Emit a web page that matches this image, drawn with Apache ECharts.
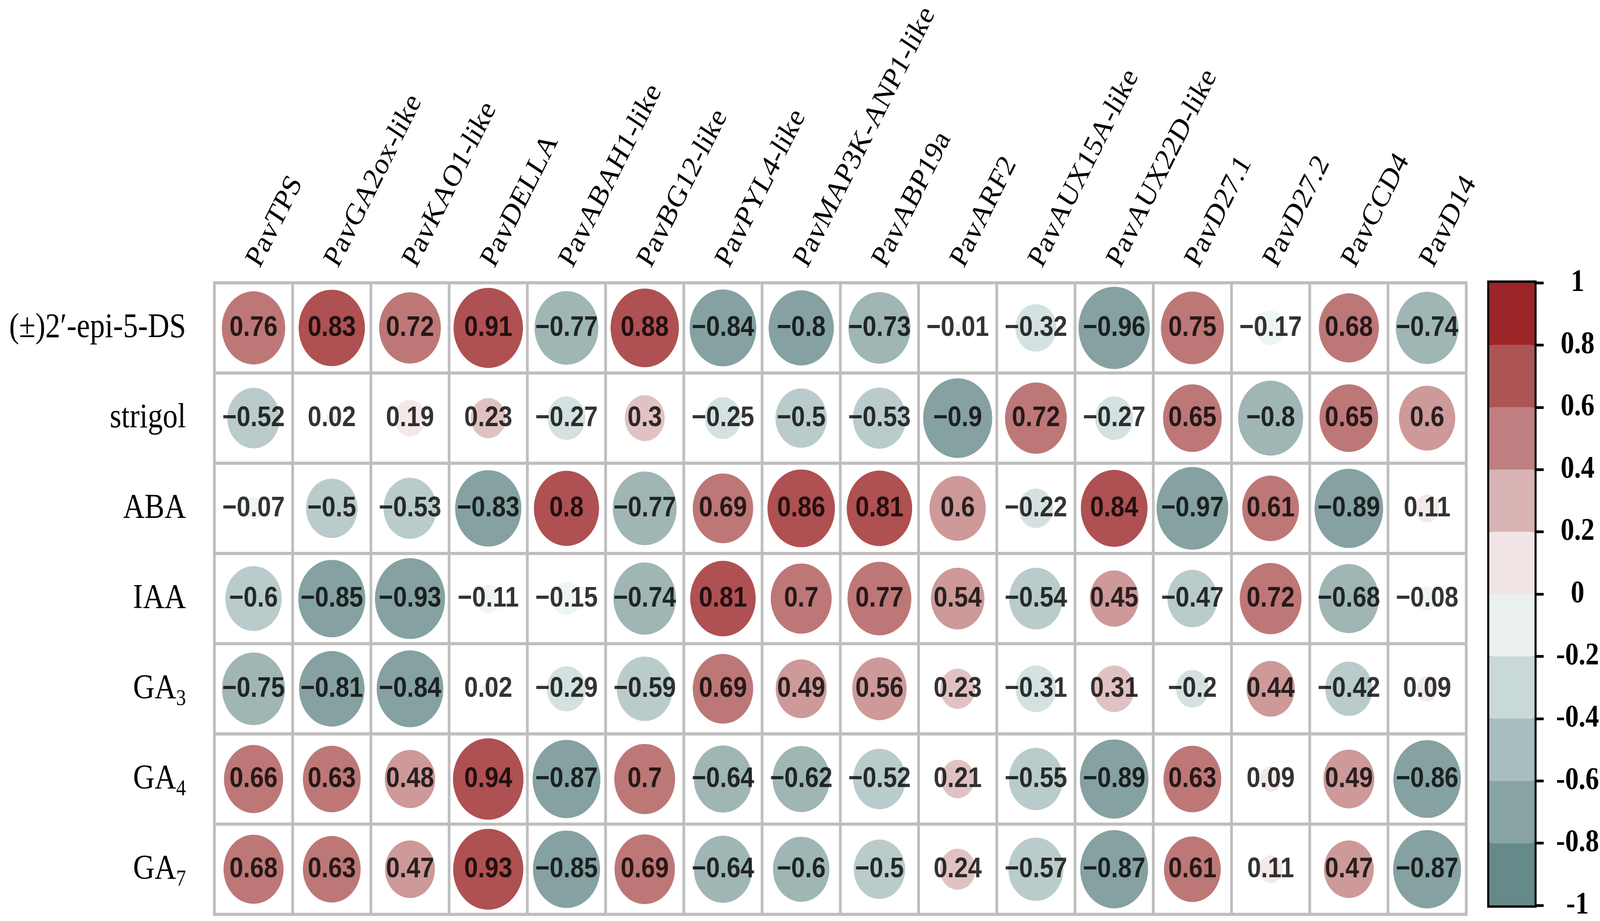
<!DOCTYPE html>
<html>
<head>
<meta charset="utf-8">
<title>correlation circles</title>
<script src="https://cdn.jsdelivr.net/npm/echarts@6/dist/echarts.min.js"></script>
<style>
  html, body { margin: 0; padding: 0; background: #fff; overflow: hidden; }
  #chart { width: 4724px; height: 2358px; transform-origin: 0 0; }
</style>
</head>
<body>
<div id="chart"></div>
<script>
// genes along the top, hormones down the side
const genes = [
  'PavTPS', 'PavGA2ox-like', 'PavKAO1-like', 'PavDELLA', 'PavABAH1-like', 'PavBG12-like',
  'PavPYL4-like', 'PavMAP3K-ANP1-like', 'PavABP19a', 'PavARF2', 'PavAUX15A-like',
  'PavAUX22D-like', 'PavD27.1', 'PavD27.2', 'PavCCD4', 'PavD14'
];
const hormones = ['(±)2′-epi-5-DS', 'strigol', 'ABA', 'IAA', 'GA3', 'GA4', 'GA7'];

// correlation per hormone (values printed as 2 decimals; third decimal only picks the colour bin seen)
const epiDS   = [0.76, 0.83, 0.72, 0.91, -0.77, 0.88, -0.84, -0.802, -0.73, -0.01, -0.32, -0.96, 0.75, -0.17, 0.68, -0.74];
const strigol = [-0.52, 0.02, 0.19, 0.23, -0.27, 0.3, -0.25, -0.5, -0.53, -0.9, 0.72, -0.27, 0.65, -0.798, 0.65, 0.598];
const aba     = [-0.07, -0.5, -0.53, -0.83, 0.802, -0.77, 0.69, 0.86, 0.81, 0.598, -0.22, 0.84, -0.97, 0.61, -0.89, 0.11];
const iaa     = [-0.598, -0.85, -0.93, -0.11, -0.15, -0.74, 0.81, 0.7, 0.77, 0.54, -0.54, 0.45, -0.47, 0.72, -0.68, -0.08];
const ga3     = [-0.75, -0.81, -0.84, 0.02, -0.29, -0.59, 0.69, 0.49, 0.56, 0.23, -0.31, 0.31, -0.202, 0.44, -0.42, 0.09];
const ga4     = [0.66, 0.63, 0.48, 0.94, -0.87, 0.7, -0.64, -0.62, -0.52, 0.21, -0.55, -0.89, 0.63, 0.09, 0.49, -0.86];
const ga7     = [0.68, 0.63, 0.47, 0.93, -0.85, 0.69, -0.64, -0.602, -0.5, 0.24, -0.57, -0.87, 0.61, 0.11, 0.47, -0.87];
const rows = [epiDS, strigol, aba, iaa, ga3, ga4, ga7];

// colour scale, from -1 upward
const breaks = [-1, -0.8, -0.6, -0.4, -0.2, 0, 0.2, 0.4, 0.6, 0.8, 1];
const binColors = [
  '#668a89', '#87a4a3', '#a9bebe', '#c9d9d9', '#ebf1f1',
  '#f0e4e4', '#d8b3b3', '#c07f80', '#ad5555', '#9b2427'
];

const W = 4724;
const CELL = 231;
const GRID_LEFT = 633;
const GRID_TOP = 724;
const LINE = '#bebebe';

// the browser may give a narrower viewport than the 4724px figure; squeeze to fit it
const el = document.getElementById('chart');
const sx = Math.min(1, window.innerWidth / W);
if (sx < 1) el.style.transform = `scaleX(${sx})`;

const cells = [];
rows.forEach((vals, r) => vals.forEach((v, c) => cells.push([c, r, v])));

const fmtCell = v => String(Math.round(v * 100) / 100).replace('-', '\u2212');

const pieces = binColors.map((color, i) => {
  const p = { gte: breaks[i], color };
  if (i === binColors.length - 1) p.lte = breaks[i + 1]; else p.lt = breaks[i + 1];
  return p;
});

// colour bar: stacked bars, positives up from 0 and negatives down from 0
const barSeries = binColors
  .map((color, i) => ({ lo: breaks[i], hi: breaks[i + 1], color }))
  .sort((a, b) => Math.abs(a.lo + a.hi) - Math.abs(b.lo + b.hi))
  .map(b => ({
    type: 'bar',
    xAxisIndex: 1,
    yAxisIndex: 1,
    stack: 'bar',
    barWidth: '100%',
    silent: true,
    itemStyle: { color: b.color },
    data: [b.lo >= 0 ? b.hi - b.lo : b.lo - b.hi],
  }));

const chart = echarts.init(el, null, { width: W, height: 2358 });
chart.setOption({
  backgroundColor: '#fff',
  animation: false,
  grid: [
    {
      left: GRID_LEFT, top: GRID_TOP, width: CELL * genes.length, height: CELL * hormones.length,
      show: true, borderColor: LINE, borderWidth: 8,
    },
    {
      left: 4397, top: GRID_TOP, width: 134, height: CELL * hormones.length,
      show: true, borderColor: '#000', borderWidth: 12,
    },
  ],
  xAxis: [
    {
      type: 'category',
      gridIndex: 0,
      data: genes,
      position: 'top',
      axisTick: { show: false },
      axisLine: { lineStyle: { color: LINE, width: 8 } },
      splitLine: { show: true, lineStyle: { color: LINE, width: 8 } },
      axisLabel: {
        interval: 0,
        rotate: -60,
        margin: 46,
        padding: [0, 0, 48, 0],
        fontFamily: 'Liberation Serif',
        fontSize: 79,
        color: '#000',
      },
    },
    { type: 'category', gridIndex: 1, data: ['bar'], show: false },
  ],
  yAxis: [
    {
      type: 'category',
      gridIndex: 0,
      data: hormones,
      inverse: true,
      axisTick: { show: false },
      axisLine: { lineStyle: { color: LINE, width: 8 } },
      splitLine: { show: true, lineStyle: { color: LINE, width: 8 } },
      axisLabel: {
        interval: 0,
        margin: 84,
        color: '#000',
        fontFamily: 'Liberation Serif',
        fontSize: 88,
        formatter: v => {
          const m = v.match(/^GA(\d)$/);
          return m ? `{n|GA}{s|${m[1]}}` : `{n|${v}}`;
        },
        rich: {
          n: { fontFamily: 'Liberation Serif', fontSize: 88, lineHeight: 110, color: '#000' },
          s: { fontFamily: 'Liberation Serif', fontSize: 58, lineHeight: 58, verticalAlign: 'bottom', color: '#000' },
        },
      },
    },
    {
      type: 'value',
      gridIndex: 1,
      position: 'right',
      min: -1,
      max: 1,
      interval: 0.2,
      splitLine: { show: false },
      axisLine: { show: true, lineStyle: { color: '#000', width: 9 } },
      axisTick: { show: true, length: 27, lineStyle: { color: '#000', width: 7 } },
      axisLabel: {
        margin: 127,
        align: 'center',
        fontFamily: 'Liberation Serif',
        fontWeight: 'bold',
        fontSize: 80,
        color: '#000',
        formatter: v => String(+v.toFixed(1)),
      },
    },
  ],
  visualMap: {
    type: 'piecewise',
    show: false,
    seriesIndex: 0,
    dimension: 2,
    pieces,
  },
  series: [
    {
      type: 'scatter',
      xAxisIndex: 0,
      yAxisIndex: 0,
      symbol: 'circle',
      symbolSize: d => CELL * 0.93 * Math.sqrt(Math.abs(d[2])),
      data: cells,
      label: {
        show: true,
        position: 'inside',
        formatter: p => fmtCell(p.value[2]),
        fontFamily: 'Liberation Sans',
        fontWeight: 'bold',
        fontSize: 73,
        color: '#000',
      },
      emphasis: { disabled: true },
    },
    ...barSeries,
  ],
});
</script>
</body>
</html>
